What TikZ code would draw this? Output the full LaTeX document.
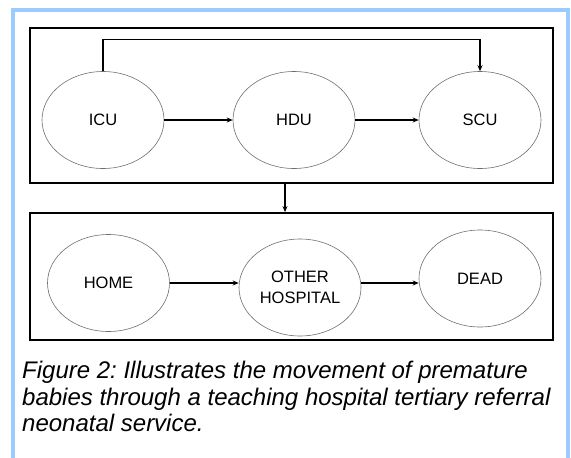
\documentclass[tikz,border=0pt]{standalone}
\usepackage{fontspec}
\setmainfont{Liberation Sans}
\usepackage{tikz}
\usetikzlibrary{arrows.meta,positioning,shapes.geometric,calc}
\definecolor{fframe}{HTML}{9CCBFF}
\definecolor{eborder}{HTML}{6E6E6E}
\frenchspacing
\tikzset{
  unit/.style={ellipse, draw=eborder, line width=0.6pt, minimum width=122pt,
               minimum height=97pt, inner sep=0pt, align=center,
               font=\fontsize{16.5}{21}\selectfont},
  stage/.style={rectangle, draw=black, line width=1.8pt, minimum width=523pt,
                inner sep=0pt},
  arr/.style={-{Stealth[length=6pt,width=5pt]}, draw=black, line width=1.4pt},
  figcap/.style={font=\fontsize{24}{26.5}\selectfont\itshape, align=left,
              inner sep=0pt},
}
\begin{document}
\begin{tikzpicture}[x=1pt, y=-1pt]
  \useasboundingbox (0,0) rectangle (571,458);
  \draw[fframe, line width=4pt] (13,458) -- (13,10) -- (568,10) -- (568,458);

  % inpatient units
  \node[stage, minimum height=155pt] (ward) at (291.5,105.5) {};
  \node[unit] (icu) at (103,120) {ICU};
  \node[unit] (hdu) at (294,120) {HDU};
  \node[unit] (scu) at (480,120) {SCU};

  % outcomes
  \node[stage, minimum height=127pt] (exit) at (291.5,276.5) {};
  \node[unit] (home) at (108.5,283) {HOME};
  \node[unit] (other) at (300,287.5) {OTHER\\HOSPITAL};
  \node[unit] (dead) at (480,278.5) {DEAD};
  \coordinate (drop) at (285,0);

  \draw[arr] (icu.east) -- (hdu.west);
  \draw[arr] (hdu.east) -- (scu.west);
  \draw[arr] (icu.north) -- ++(0,-32) -| (scu.north);
  \draw[arr] (ward.south -| drop) -- (exit.north -| drop);
  \draw[arr] (home.east) -- (home.east -| other.west);
  \draw[arr] (other.east |- 0,283) -- (dead.west |- 0,283);

  \node[figcap, anchor=north west] (caption) at (22,361)
    {Figure 2: Illustrates the movement of premature\\
     babies through a teaching hospital tertiary referral\\
     neonatal service.};
\end{tikzpicture}
\end{document}
